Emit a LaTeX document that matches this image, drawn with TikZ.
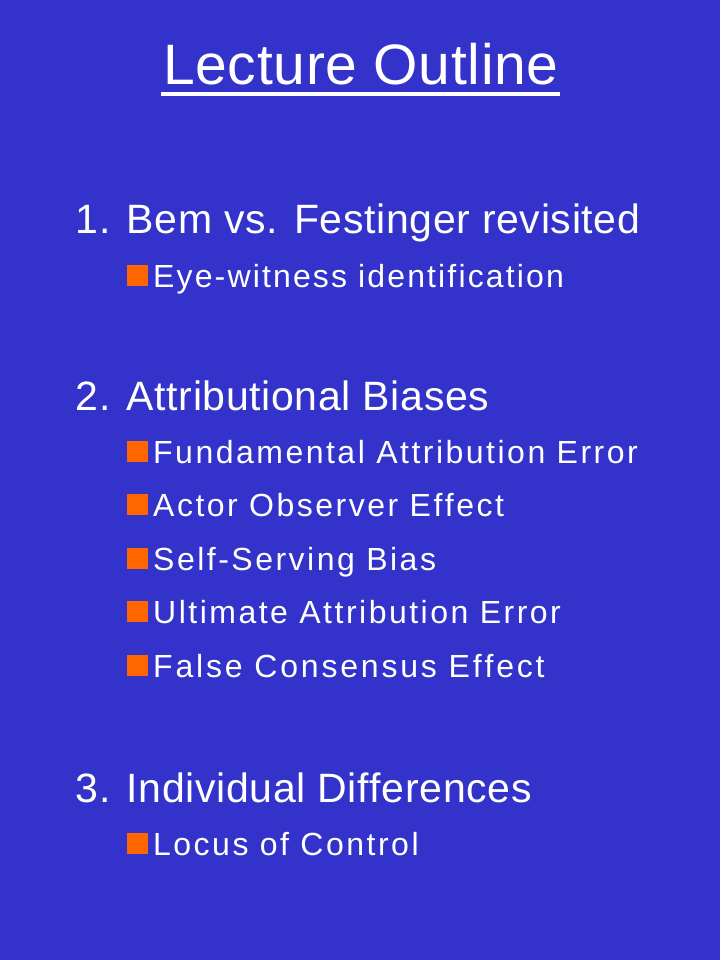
\documentclass[tikz,border=0pt]{standalone}
\usepackage{fontspec}
\setmainfont{Liberation Sans}[Kerning=Off]
\newfontfamily\titlefont[Kerning=Off,LetterSpace=1.2]{Liberation Sans}
\newfontfamily\lvlone[Kerning=Off,LetterSpace=1.6]{Liberation Sans}
\newfontfamily\lvltwo[Kerning=Off,LetterSpace=7.8]{Liberation Sans}
\newfontfamily\lvltwotight[Kerning=Off,LetterSpace=6.7]{Liberation Sans}
\newfontfamily\lvltwowide[Kerning=Off,LetterSpace=8.8]{Liberation Sans}
\definecolor{slidebg}{HTML}{3333CC}
\definecolor{bulletor}{HTML}{FF6600}
\tikzset{
  titletext/.style={text=white, inner sep=0pt, anchor=base, font=\titlefont\fontsize{57}{60}\selectfont},
  itemone/.style={text=white, inner sep=0pt, anchor=base west, font=\lvlone\fontsize{41}{46}\selectfont},
  itemtwo/.style={text=white, inner sep=0pt, anchor=base west, font=\lvltwo\fontsize{32}{36}\selectfont},
  bulletsq/.style={fill=bulletor, draw=none, minimum width=21pt, minimum height=21pt, inner sep=0pt, anchor=south west}
}
\begin{document}
\begin{tikzpicture}[x=1pt,y=-1pt]
\fill[slidebg] (0,0) rectangle (720,960);
\useasboundingbox (0,0) rectangle (720,960);
\node[titletext] (title) at (361,85) {Lecture Outline};
\coordinate (ulL) at (161,94);
\coordinate (ulR) at (560,94);
\draw[white, line width=4pt] (ulL) -- (ulR);

\node[itemone] (s1) at (75.5,233) {1. Bem vs. Festinger revisited};
\node[bulletsq] (b11) at (127,286) {};
\node[itemtwo, font=\lvltwotight\fontsize{32}{36}\selectfont] (i11) at (153,287) {Eye-witness identification};

\node[itemone] (s2) at (75.5,410) {2. Attributional Biases};
\node[bulletsq] (b21) at (127,462) {};
\node[itemtwo] (i21) at (153,463) {Fundamental Attribution Error};
\node[bulletsq] (b22) at (127,515.5) {};
\node[itemtwo] (i22) at (153,516.5) {Actor Observer Effect};
\node[bulletsq] (b23) at (127,569) {};
\node[itemtwo] (i23) at (153,570) {Self-Serving Bias};
\node[bulletsq] (b24) at (127,622.5) {};
\node[itemtwo] (i24) at (153,623.5) {Ultimate Attribution Error};
\node[bulletsq] (b25) at (127,676) {};
\node[itemtwo, font=\lvltwowide\fontsize{32}{36}\selectfont] (i25) at (153,677) {False Consensus Effect};

\node[itemone] (s3) at (75.5,802) {3. Individual Differences};
\node[bulletsq] (b31) at (127,854) {};
\node[itemtwo] (i31) at (153,855) {Locus of Control};
\end{tikzpicture}
\end{document}
